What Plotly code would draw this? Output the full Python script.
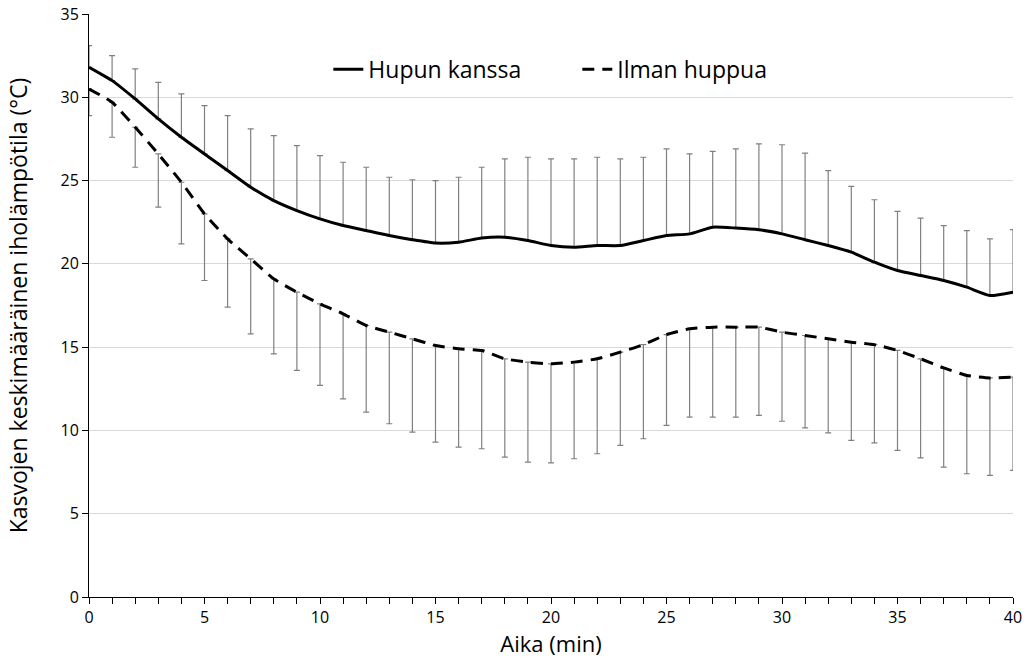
import plotly.graph_objects as go

aika = list(range(0, 41))

hupun_kanssa = [31.8, 31.0, 29.9, 28.7, 27.6, 26.6, 25.6, 24.6, 23.8, 23.2,
                22.7, 22.3, 22.0, 21.7, 21.45, 21.25, 21.3, 21.55, 21.6, 21.4,
                21.1, 21.0, 21.1, 21.1, 21.4, 21.7, 21.8, 22.2, 22.15, 22.05,
                21.8, 21.45, 21.1, 20.7, 20.1, 19.6, 19.3, 19.0, 18.6, 18.1, 18.3]
hupun_kanssa_ylaraja = [33.1, 32.5, 31.7, 30.9, 30.2, 29.5, 28.9, 28.1, 27.7, 27.1,
                        26.5, 26.1, 25.8, 25.2, 25.05, 25.0, 25.2, 25.8, 26.3, 26.4,
                        26.3, 26.3, 26.4, 26.3, 26.4, 26.9, 26.6, 26.75, 26.9, 27.2,
                        27.15, 26.65, 25.6, 24.65, 23.85, 23.15, 22.75, 22.3, 22.0, 21.5, 22.05]

ilman_huppua = [30.5, 29.7, 28.2, 26.6, 24.9, 23.0, 21.5, 20.3, 19.1, 18.3,
                17.6, 17.0, 16.3, 15.9, 15.5, 15.1, 14.9, 14.8, 14.3, 14.1,
                14.0, 14.1, 14.3, 14.7, 15.15, 15.75, 16.1, 16.2, 16.2, 16.2,
                15.9, 15.7, 15.5, 15.3, 15.15, 14.8, 14.3, 13.75, 13.3, 13.15, 13.2]
ilman_huppua_alaraja = [28.9, 27.6, 25.8, 23.4, 21.2, 19.0, 17.4, 15.8, 14.6, 13.6,
                        12.7, 11.9, 11.1, 10.4, 9.9, 9.3, 9.0, 8.9, 8.4, 8.1,
                        8.05, 8.3, 8.6, 9.1, 9.5, 10.3, 10.8, 10.8, 10.8, 10.9,
                        10.55, 10.15, 9.85, 9.4, 9.25, 8.8, 8.35, 7.8, 7.4, 7.3, 7.6]

plus = [u - v for u, v in zip(hupun_kanssa_ylaraja, hupun_kanssa)]
minus = [v - l for v, l in zip(ilman_huppua, ilman_huppua_alaraja)]

err_color = "#808080"
font_family = "Open Sans, Lato, sans-serif"

fig = go.Figure()
fig.add_trace(go.Scatter(
    x=aika, y=hupun_kanssa, mode="lines", name="Hupun kanssa",
    line=dict(color="black", width=3, shape="spline", smoothing=0.5),
    error_y=dict(type="data", symmetric=False, array=plus, arrayminus=[0]*len(plus),
                 color=err_color, thickness=1.2, width=3),
))
fig.add_trace(go.Scatter(
    x=aika, y=ilman_huppua, mode="lines", name="Ilman huppua",
    line=dict(color="black", width=3, dash="12px,8px", shape="spline", smoothing=0.5),
    error_y=dict(type="data", symmetric=False, array=[0]*len(minus), arrayminus=minus,
                 color=err_color, thickness=1.2, width=3),
))

fig.update_layout(
    width=1033, height=662,
    margin=dict(l=89, r=20, t=14, b=65),
    plot_bgcolor="white", paper_bgcolor="white",
    font=dict(family=font_family, color="black", size=16),
    legend=dict(orientation="h", x=0.259, y=0.905, xanchor="left", yanchor="middle",
                font=dict(size=23), bgcolor="rgba(0,0,0,0)", entrywidth=204),
    xaxis=dict(
        range=[0, 40], tick0=0, dtick=5, showgrid=False, zeroline=False,
        showline=True, linecolor="black", linewidth=1, automargin=False,
        ticks="outside", ticklen=6, tickcolor="black",
        minor=dict(dtick=1, ticks="outside", ticklen=6, tickcolor="black", showgrid=False),
        title=dict(text="Aika (min)", font=dict(size=22), standoff=2),
        tickfont=dict(size=16),
    ),
    yaxis=dict(
        range=[0, 35], tick0=0, dtick=5, showgrid=True, gridcolor="#d9d9d9", gridwidth=1,
        zeroline=False, showline=True, linecolor="black", linewidth=1, automargin=False,
        ticks="outside", ticklen=6, tickcolor="black",
        title=dict(text="Kasvojen keskimääräinen iholämpötila (°C)", font=dict(size=23), standoff=26),
        tickfont=dict(size=16),
    ),
)

fig.write_html("out.html")
